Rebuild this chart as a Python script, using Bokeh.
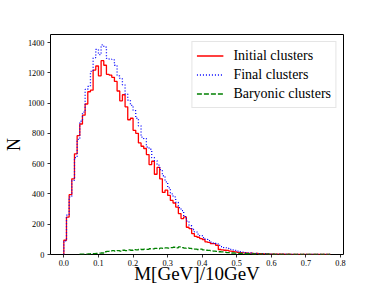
import numpy as np
from bokeh.plotting import figure
from bokeh.models import Range1d, FixedTicker, Legend, LegendItem, NumeralTickFormatter
from bokeh.embed import file_html
from bokeh.resources import INLINE

# histogram binning (bin edges start / width)
bin_start = 0.0
bin_width = 0.0077
baryonic_bin_start = 0.0462

initial_clusters = [
    94, 247, 395, 500, 665, 785, 862, 920, 994, 1075,
    1085, 1218, 1245, 1180, 1280, 1250, 1190, 1185, 1170, 1143,
    1080, 1015, 1055, 975, 890, 900, 820, 800, 737, 715,
    700, 660, 594, 616, 530, 575, 500, 410, 425, 390,
    357, 340, 313, 270, 237, 248, 180, 171, 138, 120,
    114, 105, 99, 83, 80, 72, 72, 61, 33, 30,
    28, 27, 22, 20, 17, 14, 12, 11, 10, 8,
    9, 6, 7, 5, 5, 4, 4, 3, 3, 2,
    3, 2, 2, 1, 2, 1, 1, 1, 0, 1,
    1, 0, 0, 1, 0, 0, 1, 0, 0, 1,
]

final_clusters = [
    90, 260, 380, 490, 640, 760, 880, 940, 1090, 1110,
    1210, 1300, 1355, 1320, 1384, 1370, 1295, 1290, 1285, 1250,
    1180, 1160, 1120, 1060, 1020, 985, 950, 900, 850, 775,
    765, 710, 695, 640, 620, 590, 560, 520, 480, 440,
    400, 380, 345, 310, 290, 250, 220, 190, 165, 150,
    135, 125, 112, 100, 92, 82, 76, 70, 60, 52,
    45, 40, 34, 30, 27, 22, 18, 16, 13, 11,
    10, 8, 7, 6, 5, 5, 4, 3, 3, 3,
    2, 2, 2, 2, 1, 1, 1, 1, 1, 0,
    1, 0, 1, 0, 0, 1, 0, 0, 0, 1,
]

baryonic_clusters = [
    2, 3, 3, 4, 5, 6, 8, 9, 10, 18,
    20, 22, 26, 22, 25, 22, 28, 26, 30, 28,
    32, 30, 35, 33, 36, 34, 38, 37, 40, 38,
    42, 40, 44, 42, 45, 48, 44, 50, 46, 42,
    44, 40, 38, 36, 33, 35, 30, 28, 27, 24,
    22, 20, 18, 17, 15, 13, 12, 10, 9, 8,
    7, 6, 5, 5, 4, 4, 3, 3, 3, 2,
    2, 2, 2, 1, 1, 1, 1, 1, 1, 1,
    1, 1, 0, 1, 0, 1, 0, 1, 0, 0,
    1, 0, 0, 0,
]

x_ticks = [0.0, 0.1, 0.2, 0.3, 0.4, 0.5, 0.6, 0.7, 0.8]
y_ticks = [0, 200, 400, 600, 800, 1000, 1200, 1400]

x_label = "M[GeV]/10GeV"
y_label = "N"
series_labels = ["Initial clusters", "Final clusters", "Baryonic clusters"]

SERIF = "Liberation Serif"


def step_xy(start, width, counts):
    n = len(counts)
    edges = start + width * np.arange(n + 1)
    xs = np.concatenate([[edges[0]], edges])
    ys = np.concatenate([[0], counts, [0]])
    return xs, ys


p = figure(width=381, height=286, output_backend="svg", toolbar_location=None,
           x_range=Range1d(-0.0385, 0.8085), y_range=Range1d(0, 1453),
           min_border_left=47, min_border_right=38, min_border_top=34, min_border_bottom=32)

p.background_fill_color = "white"
p.border_fill_color = "white"
p.outline_line_color = "black"
p.outline_line_width = 1
p.xgrid.visible = False
p.ygrid.visible = False

for ax in (p.xaxis[0], p.yaxis[0]):
    ax.axis_line_color = None
    ax.major_tick_in = 0
    ax.major_tick_out = 3
    ax.major_tick_line_color = "black"
    ax.major_tick_line_width = 0.8
    ax.minor_tick_line_color = None
    ax.major_label_text_font = SERIF
    ax.major_label_text_font_size = "8.3px"
    ax.major_label_text_color = "black"
    ax.major_label_standoff = 3
    ax.axis_label_text_font = SERIF
    ax.axis_label_text_font_style = "normal"
    ax.axis_label_text_color = "black"

p.xaxis.major_label_standoff = 2
p.xaxis.ticker = FixedTicker(ticks=x_ticks)
p.xaxis.formatter = NumeralTickFormatter(format="0.0")
p.yaxis.ticker = FixedTicker(ticks=y_ticks)

p.xaxis.axis_label = x_label
p.xaxis.axis_label_text_font_size = "19px"
p.xaxis.axis_label_standoff = -6
p.yaxis.axis_label = y_label
p.yaxis.axis_label_text_font_size = "18px"
p.yaxis.axis_label_standoff = 1

xi, yi = step_xy(bin_start, bin_width, initial_clusters)
xf, yf = step_xy(bin_start, bin_width, final_clusters)
xb, yb = step_xy(baryonic_bin_start, bin_width, baryonic_clusters)

r_init = p.step(xi, yi, mode="after", line_color="#ff0000", line_width=1.3)
r_fin = p.step(xf, yf, mode="after", line_color="#0000ff", line_width=1.3, line_dash="1 2")
r_bar = p.step(xb, yb, mode="after", line_color="#008000", line_width=1.3, line_dash="5 2")

legend = Legend(items=[
    LegendItem(label=series_labels[0], renderers=[r_init]),
    LegendItem(label=series_labels[1], renderers=[r_fin]),
    LegendItem(label=series_labels[2], renderers=[r_bar]),
], location="top_right")
legend.label_text_font = SERIF
legend.label_text_font_size = "14px"
legend.label_text_color = "black"
legend.border_line_color = "#cccccc"
legend.border_line_width = 1
legend.background_fill_alpha = 0.8
legend.glyph_width = 27
legend.glyph_height = 19
legend.label_height = 19
legend.spacing = 0
legend.padding = 4
legend.margin = 7
legend.label_standoff = 10
p.add_layout(legend)

open("out.html", "w").write(file_html(p, INLINE))
